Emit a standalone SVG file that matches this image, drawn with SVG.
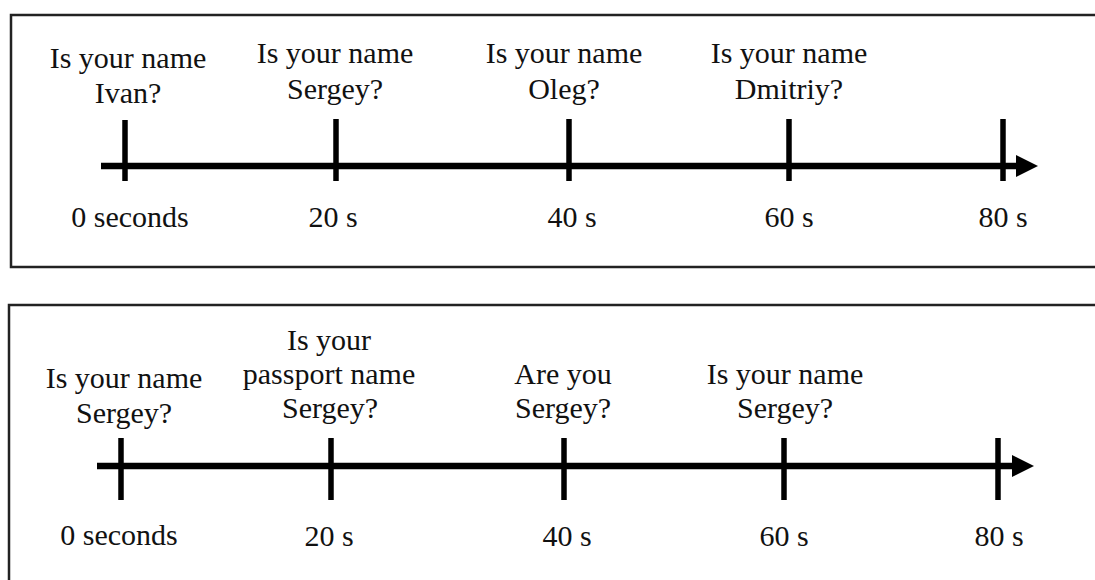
<svg xmlns="http://www.w3.org/2000/svg" width="1095" height="580" viewBox="0 0 1095 580">
<style>
.frame{fill:#fff;stroke:#222;stroke-width:2.5}
.axis{stroke:#000;stroke-width:6.5;fill:none}
.tick{stroke:#000;stroke-width:5.5}
text{font-family:"Liberation Serif","Times New Roman",serif;font-size:30px;fill:#111;text-anchor:middle}
</style>
<defs>
<marker id="arrow" markerUnits="userSpaceOnUse" markerWidth="23" markerHeight="23" refX="0" refY="11" orient="auto">
<path d="M0,0 L22,11 L0,22 Z" fill="#000"/>
</marker>
</defs>
<rect width="1095" height="580" fill="#fff"/>
<g id="panel-top">
<rect class="frame" x="11" y="15" width="1100" height="252"/>
</g>
<g id="panel-bottom">
<rect class="frame" x="9" y="305" width="1100" height="300"/>
</g>
<g id="connectors">
<line class="axis" x1="101" y1="166" x2="1016" y2="166" marker-end="url(#arrow)"/>
<line class="axis" x1="97" y1="466" x2="1012" y2="466" marker-end="url(#arrow)"/>
</g>
<g id="t1-0">
<line class="tick" x1="125" y1="120" x2="125" y2="181"/>
<text x="128" y="68">Is your name</text>
<text x="128" y="103">Ivan?</text>
<text x="130" y="227">0 seconds</text>
</g>
<g id="t1-20">
<line class="tick" x1="336" y1="119" x2="336" y2="181"/>
<text x="335" y="63">Is your name</text>
<text x="335" y="99">Sergey?</text>
<text x="333" y="227">20 s</text>
</g>
<g id="t1-40">
<line class="tick" x1="569" y1="119" x2="569" y2="181"/>
<text x="564" y="63">Is your name</text>
<text x="564" y="99">Oleg?</text>
<text x="572" y="227">40 s</text>
</g>
<g id="t1-60">
<line class="tick" x1="789" y1="119" x2="789" y2="181"/>
<text x="789" y="63">Is your name</text>
<text x="789" y="99">Dmitriy?</text>
<text x="789" y="227">60 s</text>
</g>
<g id="t1-80">
<line class="tick" x1="1003" y1="119" x2="1003" y2="181"/>
<text x="1003" y="227">80 s</text>
</g>
<g id="t2-0">
<line class="tick" x1="121" y1="438" x2="121" y2="500"/>
<text x="124" y="388">Is your name</text>
<text x="124" y="423">Sergey?</text>
<text x="119" y="545">0 seconds</text>
</g>
<g id="t2-20">
<line class="tick" x1="331" y1="438" x2="331" y2="500"/>
<text x="329" y="350">Is your</text>
<text x="329" y="384">passport name</text>
<text x="330" y="418">Sergey?</text>
<text x="329" y="546">20 s</text>
</g>
<g id="t2-40">
<line class="tick" x1="564" y1="438" x2="564" y2="500"/>
<text x="563" y="384">Are you</text>
<text x="563" y="418">Sergey?</text>
<text x="567" y="546">40 s</text>
</g>
<g id="t2-60">
<line class="tick" x1="784" y1="438" x2="784" y2="500"/>
<text x="785" y="384">Is your name</text>
<text x="785" y="418">Sergey?</text>
<text x="784" y="546">60 s</text>
</g>
<g id="t2-80">
<line class="tick" x1="998" y1="438" x2="998" y2="500"/>
<text x="999" y="546">80 s</text>
</g>
</svg>
